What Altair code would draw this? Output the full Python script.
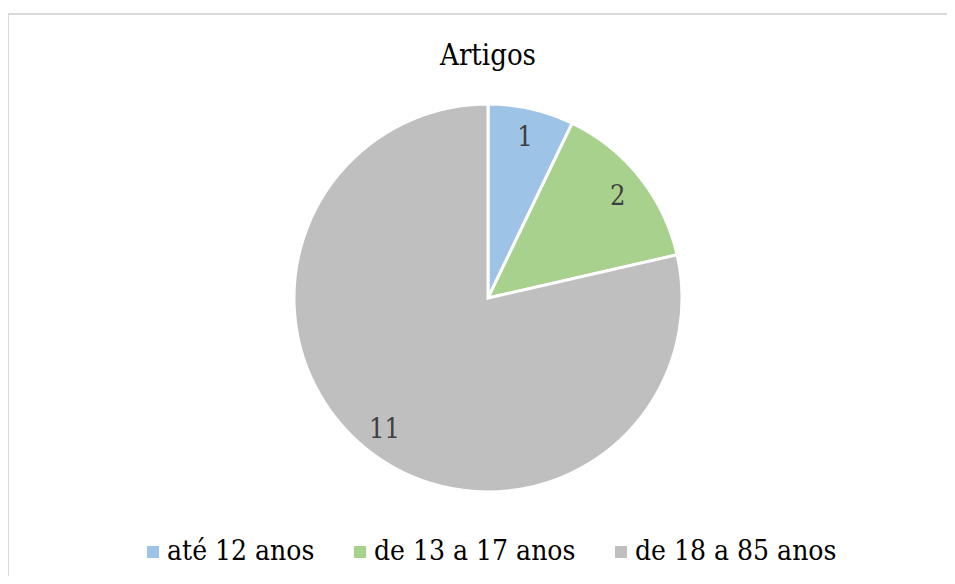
import altair as alt
import pandas as pd

categories = ["até 12 anos", "de 13 a 17 anos", "de 18 a 85 anos"]
values = [1, 2, 11]
colors = ["#9DC3E6", "#A9D18E", "#BFBFBF"]
title_text = "Artigos"

df = pd.DataFrame({"cat": categories, "val": values, "ord": list(range(len(values)))})

FONT = "DejaVu Serif Condensed, DejaVu Serif"
CX, CY, R = 480, 290, 194

base = alt.Chart(df).encode(
    theta=alt.Theta("val:Q", stack=True),
    order=alt.Order("ord:Q"),
    x=alt.value(CX),
    y=alt.value(CY),
)

pie = base.mark_arc(outerRadius=R, stroke="white", strokeWidth=3).encode(
    color=alt.Color(
        "cat:N",
        scale=alt.Scale(domain=categories, range=colors),
        sort=categories,
        legend=alt.Legend(
            title=None,
            orient="none",
            direction="horizontal",
            legendX=131,
            legendY=530,
            padding=0,
            symbolType="square",
            symbolSize=144,
            symbolStrokeWidth=0,
            labelFont=FONT,
            labelFontSize=28,
            labelColor="#000000",
            labelOffset=0,
            columnPadding=31,
            labelLimit=400,
        ),
    )
)
labels = base.mark_text(radius=166, font=FONT, fontSize=27, dy=2).encode(
    text=alt.Text("val:Q"), color=alt.value("#404040")
)

title = alt.Chart(pd.DataFrame({"t": [title_text]})).mark_text(
    font=FONT, fontSize=29, color="#000000"
).encode(text="t:N", x=alt.value(CX), y=alt.value(48))

border_top = alt.Chart(pd.DataFrame({"a": [0]})).mark_rule(color="#D9D9D9", strokeWidth=2).encode(
    x=alt.value(0), x2=alt.value(939), y=alt.value(6)
)
border_left = alt.Chart(pd.DataFrame({"a": [0]})).mark_rule(color="#D9D9D9", strokeWidth=2).encode(
    x=alt.value(0), y=alt.value(6), y2=alt.value(568)
)

chart = alt.layer(border_top, border_left, pie, labels, title).properties(
    width=939, height=568, padding=0, autosize=alt.AutoSizeParams(type="none")
).configure_view(stroke=None)

chart.save("out.html", embed_options={"renderer": "svg", "actions": False})
